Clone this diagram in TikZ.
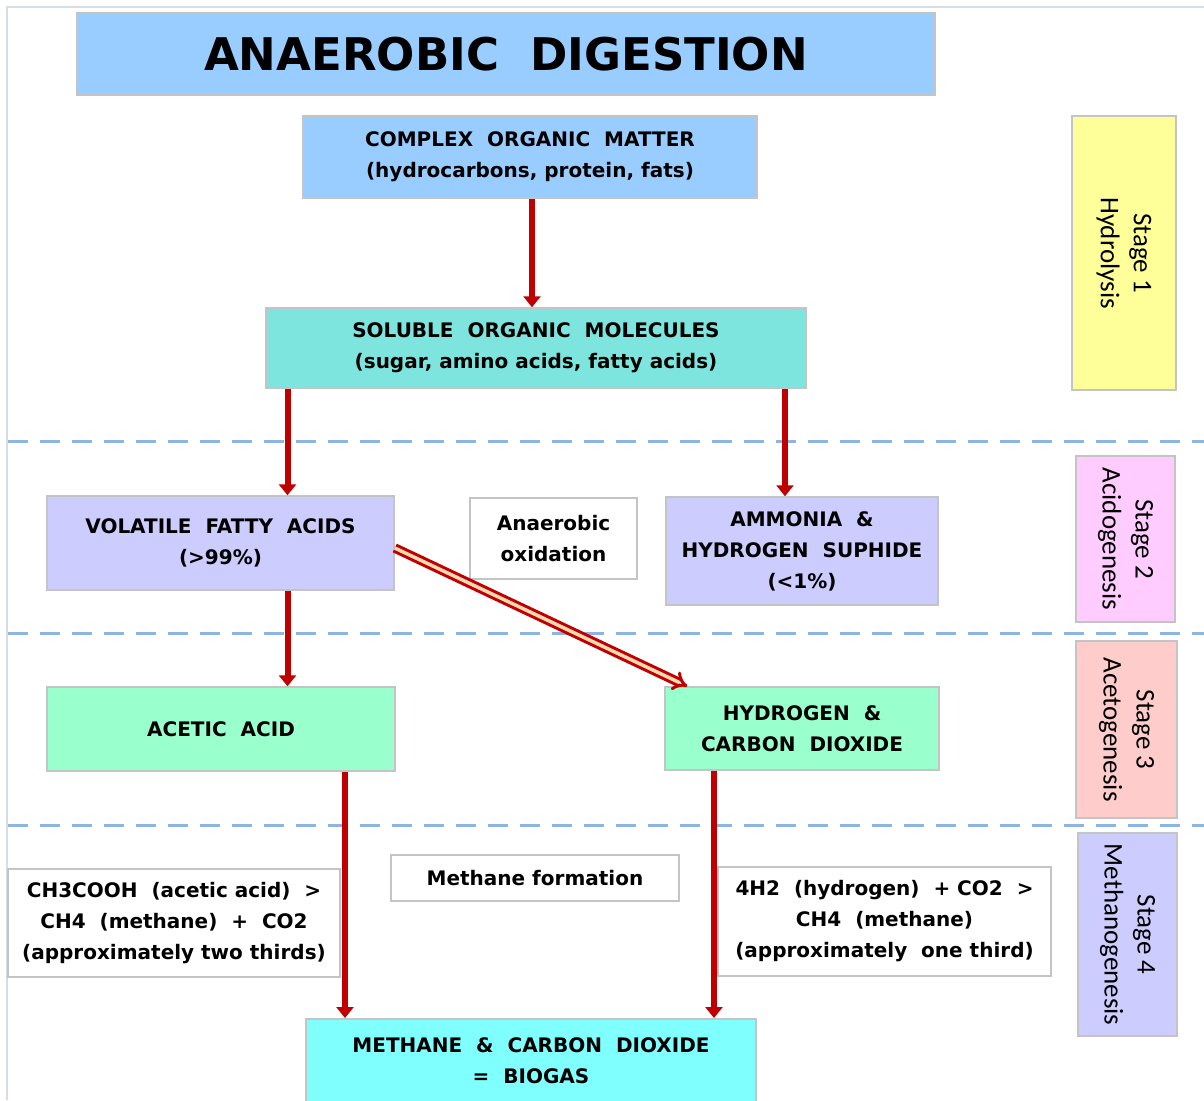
\documentclass[tikz,border=0pt]{standalone}
\usepackage{fontspec}
\setmainfont{DejaVu Sans}
\newfontfamily\stagefont{Carlito}
\usetikzlibrary{arrows.meta}
\definecolor{titleblue}{RGB}{153,204,255}
\definecolor{solblue}{RGB}{125,229,222}
\definecolor{lavender}{RGB}{204,204,255}
\definecolor{mintgreen}{RGB}{153,255,204}
\definecolor{biogascyan}{RGB}{128,255,255}
\definecolor{stageyellow}{RGB}{255,255,153}
\definecolor{stagepink}{RGB}{255,204,255}
\definecolor{stagesalmon}{RGB}{255,204,204}
\definecolor{boxborder}{RGB}{196,196,196}
\definecolor{sepblue}{RGB}{142,180,227}
\definecolor{arrowred}{RGB}{192,0,0}
\definecolor{framegray}{RGB}{215,220,230}

\begin{document}
\begin{tikzpicture}[x=1pt,y=-1pt,
		box/.style = {draw=boxborder, line width=1.5pt, inner sep=0pt, align=center,
			font=\fontsize{20}{31}\selectfont\bfseries},
		stagebox/.style = {draw=boxborder, line width=1.5pt, inner sep=0pt, align=center,
			rotate=-90, font=\stagefont\fontsize{27}{33}\selectfont},
		flow/.style = {draw=arrowred, line width=6pt, -{Triangle[width=17pt,length=11pt]}},
		sep/.style = {sepblue, line width=3pt, dash pattern=on 20pt off 12pt}
	]
		\useasboundingbox (0,0) rectangle (1204,1100);
		\draw[framegray, line width=1.5pt] (7,1100) -- (7,7) -- (1204,7);

		\draw[sep] (8,441) -- (1204,441);
		\draw[sep] (8,633) -- (1204,633);
		\draw[sep] (8,825) -- (1204,825);

		\node[box, fill=titleblue, minimum width=858, minimum height=82,
			font=\fontsize{45}{50}\selectfont\bfseries] (title) at (506,54) {ANAEROBIC\ \ DIGESTION};
		\node[box, fill=titleblue, minimum width=454, minimum height=82] (complex) at (530,157)
			{COMPLEX\ \ ORGANIC\ \ MATTER\\(hydrocarbons, protein, fats)};
		\node[box, fill=solblue, minimum width=540, minimum height=80] (soluble) at (536,348)
			{SOLUBLE\ \ ORGANIC\ \ MOLECULES\\(sugar, amino acids, fatty acids)};
		\node[box, fill=lavender, minimum width=347, minimum height=94] (vfa) at (220.5,543)
			{VOLATILE\ \ FATTY\ \ ACIDS\\(>99\%)};
		\node[box, fill=white, minimum width=167, minimum height=81] (anox) at (553.5,538.5)
			{Anaerobic\\oxidation};
		\node[box, fill=lavender, minimum width=272, minimum height=108] (ammonia) at (802,551)
			{AMMONIA\ \ \&\\HYDROGEN\ \ SUPHIDE\\(<1\%)};
		\node[box, fill=mintgreen, minimum width=348, minimum height=84] (acetic) at (221,729)
			{ACETIC\ \ ACID};
		\node[box, fill=mintgreen, minimum width=274, minimum height=83] (hydrogen) at (802,728.5)
			{HYDROGEN\ \ \&\\CARBON\ \ DIOXIDE};
		\node[box, fill=white, minimum width=332, minimum height=108] (acetate) at (174,923)
			{CH3COOH\ \ (acetic acid)\ \ >\\CH4\ \ (methane)\ \ +\ \ CO2\\(approximately two thirds)};
		\node[box, fill=white, minimum width=288, minimum height=46] (methform) at (535,878)
			{Methane formation};
		\node[box, fill=white, minimum width=333, minimum height=109] (hydrogenotroph) at (884.5,921.5)
			{4H2\ \ (hydrogen)\ \ + CO2\ \ >\\CH4\ \ (methane)\\(approximately\ \ one third)};
		\node[box, fill=biogascyan, minimum width=450, minimum height=84, anchor=north] (biogas) at (531,1018)
			{METHANE\ \ \&\ \ CARBON\ \ DIOXIDE\\=\ \ BIOGAS};

		\node[stagebox, fill=stageyellow, minimum width=274, minimum height=104] (stage1) at (1124,253)
			{Stage 1\\Hydrolysis};
		\node[stagebox, fill=stagepink, minimum width=166, minimum height=99] (stage2) at (1125.5,539)
			{Stage 2\\Acidogenesis};
		\node[stagebox, fill=stagesalmon, minimum width=177, minimum height=101] (stage3) at (1126.5,729.5)
			{Stage 3\\Acetogenesis};
		\node[stagebox, fill=lavender, minimum width=203, minimum height=99] (stage4) at (1127.5,934.5)
			{Stage 4\\Methanogenesis};

		\draw[flow] ([xshift=2]complex.south) -- ([xshift=2]complex.south |- soluble.north);
		\draw[flow] ([xshift=67]vfa.north |- soluble.south) -- ([xshift=67]vfa.north);
		\draw[flow] ([xshift=-17]ammonia.north |- soluble.south) -- ([xshift=-17]ammonia.north);
		\draw[flow] ([xshift=67]vfa.south) -- ([xshift=67]vfa.south |- acetic.north);
		\draw[draw=arrowred, line width=3pt, double=orange!30, double distance=3.5pt, -{Implies}]
			([yshift=-5]vfa.east) -- ([xshift=23]hydrogen.north west);
		\draw[flow] ([xshift=124]acetic.south) -- ([xshift=124]acetic.south |- biogas.north);
		\draw[flow] ([xshift=-88]hydrogen.south) -- ([xshift=-88]hydrogen.south |- biogas.north);
	\end{tikzpicture}
\end{document}
